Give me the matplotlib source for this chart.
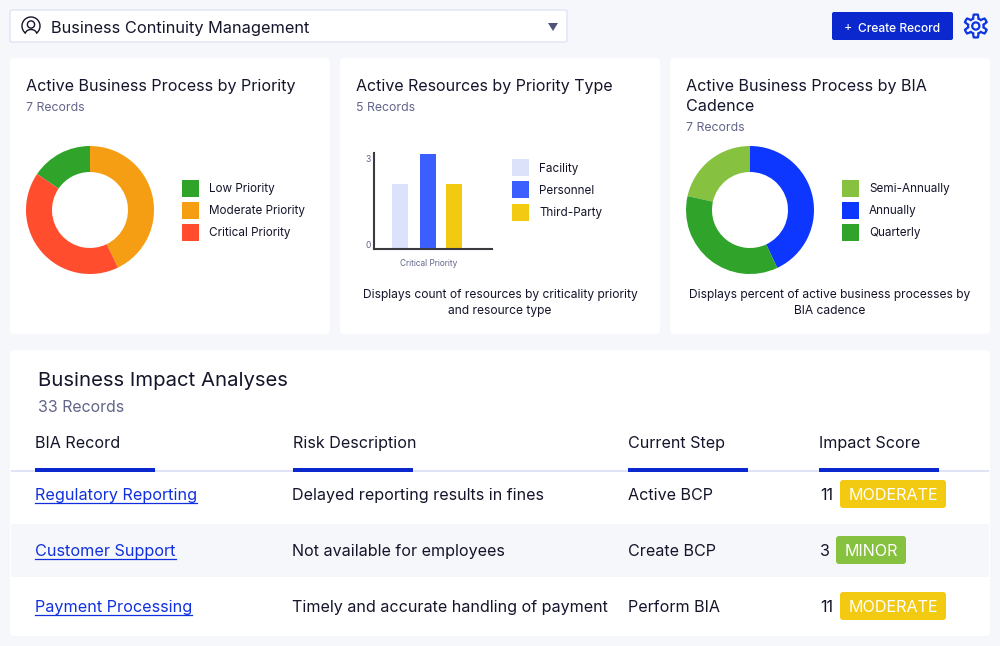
import numpy as np
import matplotlib
matplotlib.use("Agg")
import matplotlib.pyplot as plt
from matplotlib.patches import FancyBboxPatch, Rectangle, Circle, Polygon, Arc

plt.rcParams["font.family"] = ["Inter", "DejaVu Sans"]

# data
priority_labels = ["Low Priority", "Moderate Priority", "Critical Priority"]
priority_values = [15.5, 42.8, 41.7]
priority_colors = ["#30A32A", "#F59E13", "#FF4D2E"]

resource_labels = ["Facility", "Personnel", "Third-Party"]
resource_values = [2.05, 3, 2.05]
resource_colors = ["#DDE2FB", "#3B5FFF", "#F3CA12"]

cadence_labels = ["Semi-Annually", "Annually", "Quarterly"]
cadence_values = [21.5, 43, 35.5]
cadence_colors = ["#86C240", "#0D36FF", "#30A32A"]

table_headers = ["BIA Record", "Risk Description", "Current Step", "Impact Score"]
bia_records = ["Regulatory Reporting", "Customer Support", "Payment Processing"]
risk_descriptions = ["Delayed reporting results in fines", "Not available for employees",
                     "Timely and accurate handling of payment"]
current_steps = ["Active BCP", "Create BCP", "Perform BIA"]
impact_scores = ["11", "3", "11"]
impact_tags = ["MODERATE", "MINOR", "MODERATE"]
tag_colors = {"MODERATE": "#F3CA12", "MINOR": "#86C240"}

W, H = 1000, 646
BG = "#F6F7FA"
BORDER = "#E0E3F5"
BLUE = "#0A28CE"
DARK = "#14152A"
GREY = "#62658A"

fig = plt.figure(figsize=(W / 100, H / 100), dpi=100, facecolor=BG)

# whole figure in pixel coordinates for the page furniture
page = fig.add_axes([0, 0, 1, 1])
page.set_xlim(0, W)
page.set_ylim(H, 0)
page.axis("off")


def px(size):
    return size * 0.72


def txt(x, y, s, size, color=DARK, ha="left", weight="normal"):
    return page.text(x, y, s, fontsize=px(size), color=color, ha=ha, va="baseline",
                     fontweight=weight, zorder=5)


def card(x0, y0, x1, y1, color="white", edge="none", r=4, lw=0):
    page.add_patch(FancyBboxPatch((x0 + r, y0 + r), x1 - x0 - 2 * r, y1 - y0 - 2 * r,
                                  boxstyle=f"round,pad={r},rounding_size={r}",
                                  fc=color, ec=edge, lw=lw, zorder=1))


def inset(x0, y0, x1, y1):
    return fig.add_axes([x0 / W, 1 - y1 / H, (x1 - x0) / W, (y1 - y0) / H])


def donut(cx, cy, values, colors):
    ax = inset(cx - 64, cy - 64, cx + 64, cy + 64)
    start = 90 + 360 * values[0] / sum(values)
    ax.pie(values, colors=colors, startangle=start, counterclock=False, radius=1,
           wedgeprops={"width": 26 / 64, "linewidth": 0})
    ax.set_xlim(-1, 1)
    ax.set_ylim(-1, 1)


def legend(x, tops, labels, colors, baselines):
    for top, lab, col, base in zip(tops, labels, colors, baselines):
        page.add_patch(Rectangle((x, top), 17, 17, fc=col, ec="none", zorder=3))
        txt(x + 27, base, lab, 11.7)


# top bar
card(10, 10, 567, 42, edge=BORDER, r=2, lw=1)
txt(51, 32.8, "Business Continuity Management", 16.35)
page.add_patch(Polygon([[548, 23], [558, 23], [553, 31]], fc="#50547A", ec="none", zorder=3))

# user icon
page.add_patch(Arc((31, 26), 18, 18, theta1=125, theta2=55, ec=DARK, lw=1.0, zorder=3))
page.add_patch(Circle((31, 24.5), 3.6, fc="none", ec=DARK, lw=1.0, zorder=3))
page.add_patch(Arc((31, 34.5), 12, 10, theta1=190, theta2=350, ec=DARK, lw=1.0, zorder=3))

# create button
card(832, 12, 953, 40, color=BLUE, r=2)
txt(848, 31, "+", 12.5, color="white", ha="center")
txt(857.5, 31.5, "Create Record", 12.0, color="white", weight="medium")

# gear icon
gear_t = np.linspace(0, 2 * np.pi, 241)
gear_r = 9.6 + 1.9 * np.clip(2.2 * np.cos(6 * gear_t), -1, 1)
page.add_patch(Polygon(np.c_[975.8 + gear_r * np.sin(gear_t), 26 + gear_r * np.cos(gear_t)],
                       closed=True, fc="none", ec="#0D36E0", lw=1.6, zorder=3))
page.add_patch(Circle((975.8, 26), 3.6, fc="none", ec="#0D36E0", lw=1.6, zorder=3))

# chart cards
card(10, 58, 330, 334)
card(340, 58, 660, 334)
card(670, 58, 990, 334)

txt(26, 90.7, "Active Business Process by Priority", 16.1)
txt(26, 111, "7 Records", 12.3, color=GREY)
donut(90, 210, priority_values, priority_colors)
legend(182, [180, 202, 224], priority_labels, priority_colors, [192, 214.3, 236])

txt(356, 90.7, "Active Resources by Priority Type", 16.0)
txt(356, 111, "5 Records", 12.3, color=GREY)

bar_ax = inset(374, 153, 492, 249)
bar_pos = [26, 54, 80]
bar_ax.bar(bar_pos, resource_values, width=16, color=resource_colors)
bar_ax.set_xlim(0, 118)
bar_ax.set_ylim(0, 3.03)
bar_ax.patch.set_alpha(0)
for side in ["top", "right"]:
    bar_ax.spines[side].set_visible(False)
for side in ["left", "bottom"]:
    bar_ax.spines[side].set_linewidth(1.5)
    bar_ax.spines[side].set_color("#3A3A3F")
bar_ax.set_xticks([])
bar_ax.set_yticks([])
# tick labels sit inside the axis range on the original
bar_ax.annotate("0", (0, 0), xytext=(-3, 3), textcoords="offset pixels", ha="right", va="center",
                fontsize=px(8.5), color=GREY, annotation_clip=False)
bar_ax.annotate("3", (0, 3), xytext=(-3, -6), textcoords="offset pixels", ha="right", va="center",
                fontsize=px(8.5), color=GREY, annotation_clip=False)
txt(429, 266, "Critical Priority", 8.3, color=GREY, ha="center")
legend(512, [159, 181, 204], resource_labels, resource_colors, [171.7, 194, 216])
txt(500, 298, "Displays count of resources by criticality priority", 12.05, ha="center")
txt(500, 314, "and resource type", 12.05, ha="center")

txt(686, 90.7, "Active Business Process by BIA", 16.1)
txt(686, 110.7, "Cadence", 16.1)
txt(686, 131, "7 Records", 12.3, color=GREY)
donut(750, 210, cadence_values, cadence_colors)
legend(842, [180, 202, 224], cadence_labels, cadence_colors, [192, 214.3, 236])
txt(830, 298.3, "Displays percent of active business processes by", 12.05, ha="center")
txt(830, 314.3, "BIA cadence", 12.05, ha="center")

# table card
card(10, 350, 990, 636)
txt(38, 385.7, "Business Impact Analyses", 20.3)
txt(38, 412, "33 Records", 15.9, color=GREY)

header_x = [35, 293, 627.5, 819]
bar_x = [35, 293, 628, 819]
page.add_patch(Rectangle((11, 470), 978, 2, fc=BORDER, ec="none", zorder=2))
for hx, bx, head in zip(header_x, bar_x, table_headers):
    txt(hx, 448.3, head, 16.1)
    page.add_patch(Rectangle((bx, 468), 120, 4, fc=BLUE, ec="none", zorder=3))

page.add_patch(Rectangle((11, 524), 978, 53, fc=BG, ec="none", zorder=2))

renderer = fig.canvas.get_renderer()
row_base = [500.3, 556.3, 612.3]
tag_x = [840, 836, 840]
tag_w = [106, 70, 106]
for i, base in enumerate(row_base):
    link = txt(35, base, bia_records[i], 16.2, color="#1030E0")
    ext = link.get_window_extent(renderer)
    page.plot([35, 35 + ext.width], [base + 3, base + 3], color="#1030E0", lw=0.9, zorder=5)
    txt(292, base, risk_descriptions[i], 16.1)
    txt(628, base, current_steps[i], 16.1)
    txt(820, base, impact_scores[i], 16.1)
    col = tag_colors[impact_tags[i]]
    card(tag_x[i], base - 20.3, tag_x[i] + tag_w[i], base + 7.7, color=col, r=3)
    page.patches[-1].set_zorder(3)
    txt(tag_x[i] + tag_w[i] / 2, base, impact_tags[i], 16.1, color="white", ha="center")

page.set_xlim(0, W)
page.set_ylim(H, 0)
fig.savefig("out.png", dpi=100, facecolor=BG)
